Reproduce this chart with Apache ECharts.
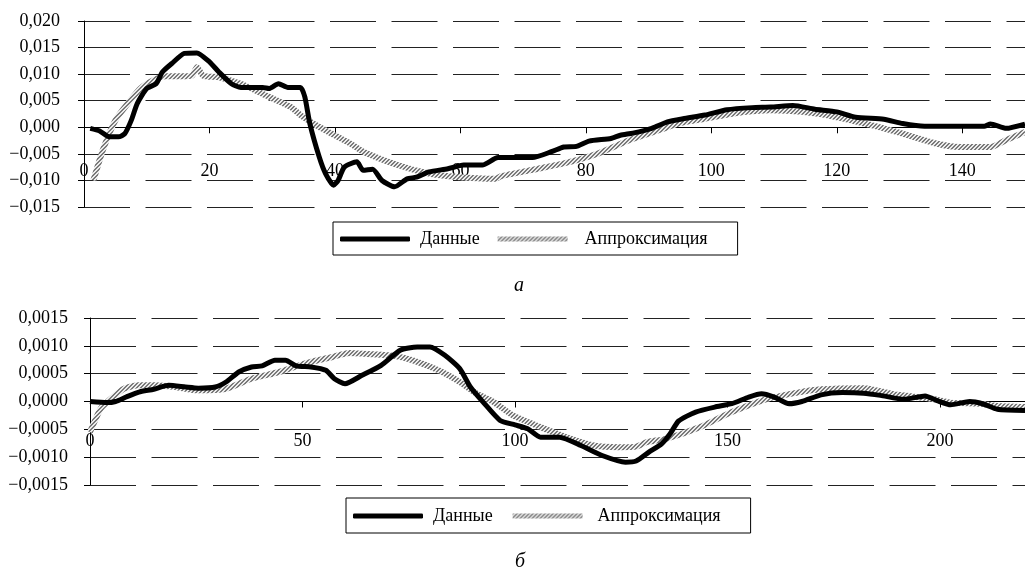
<!DOCTYPE html>
<html>
<head>
<meta charset="utf-8">
<script src="https://cdn.jsdelivr.net/npm/echarts@6/dist/echarts.min.js"></script>
<style>
  html, body { margin: 0; padding: 0; background: #fff; }
  #chart { width: 1025px; height: 573px; }
</style>
</head>
<body>
<div id="chart"></div>
<script>
// Panel "а": measured signal and its approximation
const topDataX = [1, 2.5, 4, 5.5, 6.5, 7.5, 8.5, 10, 11.5, 12.5, 14, 16, 18, 20, 21.5, 23.5, 25, 28.5, 29.5, 31, 32.5, 34.5, 35.2, 36, 37.5, 38.5, 39.8, 40.5, 41.5, 43.5, 44.5, 46, 47.5, 49.5, 51.5, 53, 55, 58, 60.5, 63.5, 66, 71.5, 74.5, 76.5, 78.5, 80.5, 84, 85.5, 87.5, 90.5, 93, 95.5, 99, 102.5, 106.5, 109.5, 113, 116.5, 120, 123, 127.5, 130.5, 134, 143.5, 144.5, 147, 150];
const topDataY = [-0.0002, -0.0007, -0.0018, -0.0018, -0.0012, 0.0012, 0.0045, 0.0073, 0.0082, 0.0104, 0.0120, 0.0139, 0.0140, 0.0123, 0.0104, 0.0082, 0.0075, 0.0075, 0.0073, 0.0082, 0.0075, 0.0075, 0.0057, 0.0007, -0.0056, -0.0087, -0.0109, -0.0100, -0.0075, -0.0065, -0.0081, -0.0079, -0.0100, -0.0112, -0.0097, -0.0094, -0.0084, -0.0078, -0.0071, -0.0071, -0.0057, -0.0057, -0.0046, -0.0037, -0.0036, -0.0026, -0.0021, -0.0015, -0.0011, -0.0002, 0.0010, 0.0016, 0.0023, 0.0033, 0.0037, 0.0038, 0.0041, 0.0034, 0.0029, 0.0019, 0.0015, 0.0007, 0.0002, 0.0002, 0.0006, -0.0002, 0.0006];
const topFitX = [1.5, 3, 5, 7, 9, 11, 13, 15.5, 17.2, 18, 19, 21.5, 25, 29, 33, 34.5, 37, 39, 42.5, 44.5, 50, 55, 59, 65.5, 66.5, 71, 76.5, 82, 87, 92.5, 95, 99, 104, 109.5, 114.5, 120, 125.5, 130.5, 136, 139.5, 144.5, 147, 150];
const topFitY = [-0.0100, -0.0043, 0.0013, 0.0045, 0.0073, 0.0088, 0.0096, 0.0096, 0.0097, 0.0113, 0.0097, 0.0094, 0.0082, 0.0060, 0.0038, 0.0023, 0.0004, -0.0009, -0.0031, -0.0046, -0.0071, -0.0087, -0.0093, -0.0097, -0.0092, -0.0081, -0.0068, -0.0049, -0.0024, -0.0002, 0.0008, 0.0016, 0.0027, 0.0032, 0.0029, 0.0019, 0.0004, -0.0012, -0.0031, -0.0037, -0.0037, -0.0024, -0.0009];

// Panel "б"
const botDataX = [0, 4, 6, 8.5, 11.5, 15, 18.5, 22.5, 25.5, 29.5, 32, 35, 38, 40.5, 43.5, 46, 48.5, 52, 55.5, 57.5, 60, 64, 68.5, 73, 77, 80, 83.5, 87, 89.5, 92.5, 96.5, 100, 103, 106, 110.5, 115.5, 120.5, 126, 128.5, 131.5, 134.5, 136.5, 138.5, 142.5, 147, 151, 155, 158, 161, 164.5, 167.5, 172, 177, 182, 186, 191.5, 196.5, 199.5, 202.5, 207, 210, 213.5, 220];
const botDataY = [0, -0.00002, 0, 0.00008, 0.00017, 0.00022, 0.00029, 0.00026, 0.00024, 0.00026, 0.00035, 0.00053, 0.00062, 0.00064, 0.00074, 0.00074, 0.00064, 0.00062, 0.00056, 0.00041, 0.00032, 0.00047, 0.00065, 0.00092, 0.00098, 0.00098, 0.00083, 0.00059, 0.00026, -0.00001, -0.00034, -0.00042, -0.00049, -0.00064, -0.00064, -0.00079, -0.00097, -0.00109, -0.00107, -0.00091, -0.00076, -0.00058, -0.00035, -0.00019, -0.00010, -0.00004, 0.00008, 0.00014, 0.00008, -0.00004, 0, 0.00012, 0.00016, 0.00015, 0.00011, 0.00004, 0.00010, 0.00001, -0.00006, 0, -0.00004, -0.00014, -0.00016];
const botFitX = [0, 2.5, 4.5, 8, 11.5, 15.5, 20, 25.5, 32, 38, 44.5, 50.5, 57, 61, 64, 71.5, 76, 82, 87, 91, 95, 99.5, 106, 112, 118.5, 124.5, 128.5, 131, 135.5, 143.5, 151, 159, 166.5, 172, 182, 190, 198, 202.5, 209.5, 213.5, 220];
const botFitY = [-0.00055, -0.00013, 0.00002, 0.00023, 0.00029, 0.00029, 0.00026, 0.00020, 0.00023, 0.00041, 0.00053, 0.00068, 0.00080, 0.00087, 0.00086, 0.00082, 0.00074, 0.00056, 0.00035, 0.00014, -0.00001, -0.00025, -0.00046, -0.00064, -0.00079, -0.00082, -0.00081, -0.00073, -0.00067, -0.00046, -0.00019, 0.00004, 0.00016, 0.00022, 0.00024, 0.00012, 0.00005, -0.00002, -0.00004, -0.00008, -0.00010];

const topXTicks = [0, 20, 40, 60, 80, 100, 120, 140];
const botXTicks = [0, 50, 100, 150, 200];
const seriesNames = ['Данные', 'Аппроксимация'];
const captions = ['а', 'б'];

const FONT = '"Liberation Serif", "Times New Roman", serif';

// hatched grey fill used for the approximation curve
function hatch() {
  const c = document.createElement('canvas');
  c.width = 4; c.height = 4;
  const g = c.getContext('2d');
  g.fillStyle = '#ececec';
  g.fillRect(0, 0, 4, 4);
  g.fillStyle = '#7a7a7a';
  for (let i = 0; i < 4; i++) {
    g.fillRect(i, (3 - i) % 4, 1, 1);
    g.fillRect(i, (4 - i) % 4, 1, 1);
  }
  return { image: c, repeat: 'repeat' };
}
const hatchPattern = hatch();

const zip = (xs, ys) => xs.map((x, i) => [x, ys[i]]);
const fmt = (digits) => (v) => {
  const s = Math.abs(v).toFixed(digits).replace('.', ',');
  return (v < -1e-12 ? '\u2212' : '') + s;
};

// x labels sit inside the plot, below the zero line
function xAxis(gridIndex, max, ticks, margin) {
  return {
    type: 'value', gridIndex, min: 0, max,
    axisLine: { onZero: true, lineStyle: { color: '#000', width: 1 } },
    axisTick: { show: true, length: 6, customValues: ticks, lineStyle: { color: '#000' } },
    axisLabel: { customValues: ticks, color: '#000', fontFamily: FONT, fontSize: 18, margin },
    splitLine: { show: false }
  };
}
function yAxis(gridIndex, min, max, interval, digits, margin) {
  return {
    type: 'value', gridIndex, min, max, interval,
    axisLine: { show: true, lineStyle: { color: '#000', width: 1 } },
    axisTick: { show: true, length: 6, lineStyle: { color: '#000' } },
    axisLabel: { color: '#000', fontFamily: FONT, fontSize: 18, margin, formatter: fmt(digits) },
    splitLine: { show: true, lineStyle: { color: '#222', width: 1, type: [46, 15.5], dashOffset: 0 } }
  };
}
function legend(top, left, gap, pad1, pad2, vpad) {
  return {
    top, left, orient: 'horizontal',
    borderColor: '#000', borderWidth: 1, borderRadius: 0,
    padding: [vpad, 30, vpad - 1, 7],
    itemWidth: 70, itemHeight: 5, itemGap: gap,
    textStyle: { color: '#000', fontFamily: FONT, fontSize: 18, lineHeight: 18 },
    data: [
      { name: seriesNames[0], icon: 'roundRect', itemStyle: { color: '#000' },
        textStyle: { padding: [0, 0, 0, pad1] } },
      { name: seriesNames[1], icon: 'rect', itemStyle: { color: hatchPattern },
        textStyle: { padding: [0, 0, 0, pad2] } }
    ],
    selectedMode: false
  };
}
function lines(idx, dx, dy, fx, fy) {
  return [
    {
      name: seriesNames[1], type: 'line', xAxisIndex: idx, yAxisIndex: idx,
      data: zip(fx, fy), showSymbol: false, smooth: 0.2, z: 2,
      lineStyle: { color: hatchPattern, width: 6 }, itemStyle: { color: '#aaa' }
    },
    {
      name: seriesNames[0], type: 'line', xAxisIndex: idx, yAxisIndex: idx,
      data: zip(dx, dy), showSymbol: false, smooth: 0.2, z: 3,
      lineStyle: { color: '#000', width: 5 }, itemStyle: { color: '#000' }
    }
  ];
}

const captionStyle = { fontFamily: FONT, fontStyle: 'italic', fontWeight: 'normal', fontSize: 20, color: '#000' };

const chart = echarts.init(document.getElementById('chart'), null, { renderer: 'canvas' });
chart.setOption({
  animation: false,
  backgroundColor: '#fff',
  grid: [
    { left: 84, top: 21, width: 941, height: 186 },
    { left: 90, top: 318, width: 942, height: 167 }
  ],
  xAxis: [xAxis(0, 150, topXTicks, -45), xAxis(1, 220, botXTicks, -53)],
  yAxis: [yAxis(0, -0.015, 0.02, 0.005, 3, 24), yAxis(1, -0.0015, 0.0015, 0.0005, 4, 22)],
  legend: [legend(222, 333, 18, 5, 12, 8), legend(498, 346, 20, 5, 10, 9)],
  title: [
    { text: captions[0], left: 514, top: 276, textStyle: captionStyle, padding: 0 },
    { text: captions[1], left: 515, top: 552, textStyle: captionStyle, padding: 0 }
  ],
  series: [
    ...lines(0, topDataX, topDataY, topFitX, topFitY),
    ...lines(1, botDataX, botDataY, botFitX, botFitY)
  ]
});
</script>
</body>
</html>
